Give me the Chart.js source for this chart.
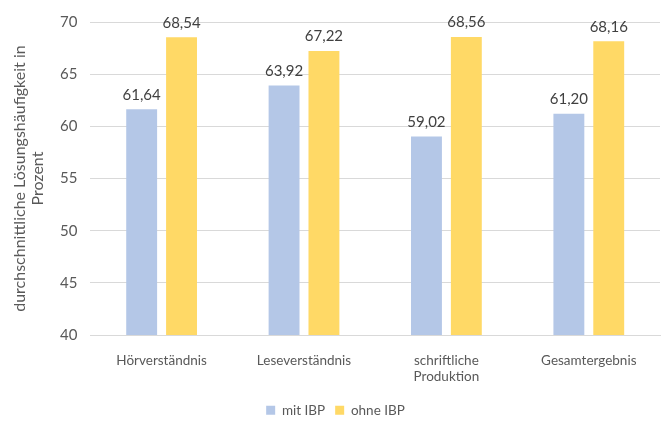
<!DOCTYPE html>
<html>
<head>
<meta charset="utf-8">
<script src="https://cdn.jsdelivr.net/npm/chart.js@4"></script>
<style>
  html, body { margin: 0; padding: 0; background: #fff; }
  #wrap { width: 669px; height: 421px; }
</style>
</head>
<body>
<div id="wrap"><canvas id="ibpChart"></canvas></div>
<script>
// Lösungshäufigkeit je Teilbereich, mit und ohne IBP
const categories = ["Hörverständnis", "Leseverständnis", ["schriftliche", "Produktion"], "Gesamtergebnis"];
const mitIBP = [61.64, 63.92, 59.02, 61.20];
const ohneIBP = [68.54, 67.22, 68.56, 68.16];
const yTicks = [40, 45, 50, 55, 60, 65, 70];

const fontFamily = "Lato, 'Open Sans', sans-serif";

// draws the value above each bar, German decimal comma
const valueLabels = {
  id: "valueLabels",
  afterDatasetsDraw(chart) {
    const ctx = chart.ctx;
    ctx.save();
    ctx.font = "15px " + fontFamily;
    ctx.fillStyle = "#404040";
    ctx.textAlign = "center";
    ctx.textBaseline = "bottom";
    chart.data.datasets.forEach((ds, i) => {
      chart.getDatasetMeta(i).data.forEach((bar, j) => {
        const txt = ds.data[j].toFixed(2).replace(".", ",");
        ctx.fillText(txt, bar.x, bar.y - 7);
      });
    });
    ctx.restore();
  },
};

new Chart(document.getElementById("ibpChart"), {
  type: "bar",
  data: {
    labels: categories,
    datasets: [
      {
        label: "mit IBP",
        data: mitIBP,
        backgroundColor: "#B4C7E7",
        categoryPercentage: 0.56,
        barPercentage: 0.775,
      },
      {
        label: "ohne IBP",
        data: ohneIBP,
        backgroundColor: "#FFD966",
        categoryPercentage: 0.56,
        barPercentage: 0.775,
      },
    ],
  },
  options: {
    responsive: true,
    maintainAspectRatio: false,
    animation: false,
    layout: { padding: { top: 12, right: 9, left: 11, bottom: -6 } },
    plugins: {
      legend: {
        position: "bottom",
        labels: {
          boxWidth: 9,
          boxHeight: 9,
          padding: 10,
          color: "#595959",
          font: { family: fontFamily, size: 13.5 },
        },
      },
      tooltip: { enabled: false },
    },
    scales: {
      x: {
        grid: { display: false },
        border: { color: "#D9D9D9", width: 1 },
        ticks: {
          color: "#595959",
          padding: 9,
          maxRotation: 0,
          font: { family: fontFamily, size: 13.5 },
        },
      },
      y: {
        min: 40,
        max: 70,
        afterBuildTicks(axis) {
          axis.ticks = yTicks.map((v) => ({ value: v }));
        },
        grid: { color: "#D9D9D9", drawTicks: false },
        border: { display: false },
        ticks: {
          color: "#595959",
          padding: 13,
          font: { family: fontFamily, size: 15 },
        },
        title: {
          display: true,
          text: ["durchschnittliche Lösungshäufigkeit in", "Prozent"],
          color: "#595959",
          padding: { top: 0, bottom: 0 },
          font: { family: fontFamily, size: 16, lineHeight: 1.125 },
        },
      },
    },
  },
  plugins: [valueLabels],
});
</script>
</body>
</html>
